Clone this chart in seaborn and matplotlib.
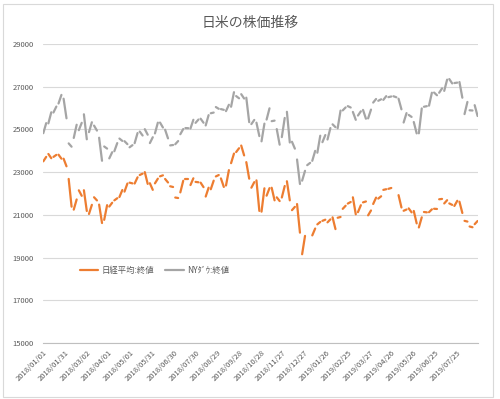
import matplotlib
matplotlib.use("Agg")
import matplotlib.pyplot as plt
import matplotlib.patches as mpatches
import numpy as np
import pandas as pd
import seaborn as sns

nan = np.nan

# Weekly values: first trading day (mon) and Friday close (fri)
week_mon = pd.date_range("2018-01-01", periods=86, freq="7D")

nikkei_mon = [
    23506, 23850, 23714, 23816, 23629, 22682, 21244, 22149, 22153, 21042,
    21824, 21480, 20766, 21388, 21678, 21835, 22088, 22508, 22467, 22865,
    23002, 22481, 22475, 22804, 22680, 22338, 21811, 22052, 22697, 22396,
    22544, 22507, 21857, 22199, 22799, 22707, 22373, 23420, 23940, 24245,
    23469, 22271, 22614, 21149, 21898, 22269, 21821, 21812, 22574, 21219,
    21506, 19155, nan, 20038, 20555, 20719, 20649, 20884, 20864, 21281,
    21528, 21822, 21125, 21584, 20977, 21509, 21762, 22169, 22218, nan,
    21923, 21191, 21302, 21182, 20410, 21134, 21124, 21285, 21729, 21534,
    21535, 21416, 21616, 20720, 20455, 20563,
]
nikkei_fri = [
    23714, 23653, 23808, 23631, 23274, 21382, 21720, 21892, 21181, 21469,
    21676, 20617, 21454, 21567, 21778, 22162, 22467, 22473, 22758, 22930,
    22450, 22171, 22694, 22851, 22516, 22304, 21788, 22597, 22697, 22712,
    22525, 22298, 22270, 22601, 22865, 22307, 23094, 23870, 24120, 23784,
    22694, 22532, 21184, 22243, 22250, 21680, 21646, 22351, 21679, 21374,
    20166, 20015, 19561, 20360, 20666, 20774, 20788, 20333, 20900, 21426,
    21602, 21025, 21451, 21627, 21206, 21807, 21870, 22200, 22259, nan,
    21345, 21250, 21117, 20601, 20884, 21117, 21258, 21276, 21746, 21686,
    21467, 21658, 21087, 20685, 20419, 20711,
]
dow_mon = [
    24824, 25283, 25792, 26214, 26439, 24346, 24601, 24964, 25709, 24874,
    25179, 24611, 24202, 23644, 23980, 24573, 24449, 24163, 24357, 24900,
    25013, 24361, 24813, 25322, 24987, 24252, 24307, 24776, 25064, 25044,
    25307, 25502, 25187, 25758, 26049, 25952, 25857, 26062, 26562, 26651,
    26487, 25250, 25317, 24443, 25462, 25387, 25017, 24640, 25826, 24423,
    23592, 22600, 23327, 23531, 23910, 24404, 24528, 25239, 25053, 25891,
    26091, 25819, 25650, 25914, 25516, 26258, 26341, 26384, 26511, 26554,
    26438, 25324, 25679, 25347, 24819, 26062, 26112, 26727, 26717, 26806,
    27359, 27172, 27221, 25718, 25897, 26136,
]
dow_fri = [
    25295, 25803, 26071, 26616, 25521, 24191, 25219, 25310, 24538, 25336,
    24946, 23533, 24103, 23933, 24360, 24463, 24311, 24263, 24831, 24715,
    24753, 24635, 25317, 25090, 24581, 24271, 24456, 25019, 25058, 25451,
    25463, 25313, 25669, 25790, 25965, 25917, 26155, 26744, 26458, 26447,
    25340, 25444, 24688, 25271, 25989, 25413, 24286, 25538, 24389, 24100,
    22445, 23062, 23433, 23996, 24706, 24737, 25064, 25106, 25883, 26031,
    26026, 25450, 25849, 25502, 25929, 26425, 26412, 26559, 26543, 26505,
    25942, 25764, 25586, 24815, 25984, 26090, 26719, 26600, 26922, 27332,
    27154, 27192, 26485, 26287, 25886, 25629,
]

series_names = ["日経平均:終値", "NYﾀﾞｳ:終値"]
colors = {"日経平均:終値": "#ED7D31", "NYﾀﾞｳ:終値": "#A5A5A5"}
tick_dates = pd.date_range("2018-01-01", "2019-07-25", freq="30D")

# long table, one unit per series-week so weekends stay as gaps
rows = []
for name, mon, fri in [(series_names[0], nikkei_mon, nikkei_fri),
                       (series_names[1], dow_mon, dow_fri)]:
    for i, d in enumerate(week_mon):
        rows.append({"date": d, "value": mon[i], "series": name, "week": i})
        rows.append({"date": d + pd.Timedelta(days=4), "value": fri[i],
                     "series": name, "week": i})
df = pd.DataFrame(rows).dropna()

sns.set_style("white")
plt.rcParams["font.family"] = ["Noto Sans CJK JP", "DejaVu Sans"]

fig = plt.figure(figsize=(5, 3.99), dpi=100)
ax = fig.add_axes([0.0866, 0.1404, 0.87, 0.7493])

sns.lineplot(data=df, x="date", y="value", hue="series", units="week",
             estimator=None, hue_order=series_names, palette=colors,
             linewidth=1.6, ax=ax)

ax.set_ylim(15000, 29000)
ax.set_yticks(range(15000, 29001, 2000))
ax.set_xlim(pd.Timestamp("2018-01-01"), pd.Timestamp("2019-08-24"))
ax.set_xticks(tick_dates)
ax.set_xticklabels([d.strftime("%Y/%m/%d") for d in tick_dates],
                   rotation=45, ha="right", rotation_mode="anchor")
ax.set_xlabel("")
ax.set_ylabel("")

ax.grid(axis="y", color="#d9d9d9", linewidth=0.8)
for s in ["top", "right", "left"]:
    ax.spines[s].set_visible(False)
ax.spines["bottom"].set_color("#bfbfbf")
ax.spines["bottom"].set_linewidth(0.8)
ax.tick_params(axis="x", direction="inout", length=4, color="#bfbfbf",
               labelsize=5.5, labelcolor="#595959", pad=2)
ax.tick_params(axis="y", length=0, labelsize=5.5, labelcolor="#595959", pad=7)

handles, labels = ax.get_legend_handles_labels()
ax.legend(handles, labels, loc="center left", bbox_to_anchor=(0.075, 0.244),
          ncol=2, frameon=False, fontsize=6, handlelength=2.2,
          handletextpad=0.4, columnspacing=1.3, borderpad=0,
          labelcolor="#595959")

fig.text(0.5, 1 - 22.7 / 399, "日米の株価推移", ha="center", va="center",
         fontsize=10, color="#595959")

fig.patches.append(mpatches.Rectangle((0.006, 0.005), 0.98, 0.985,
                                      transform=fig.transFigure, fill=False,
                                      edgecolor="#d9d9d9", linewidth=0.8))

fig.savefig("out.png", dpi=100)
